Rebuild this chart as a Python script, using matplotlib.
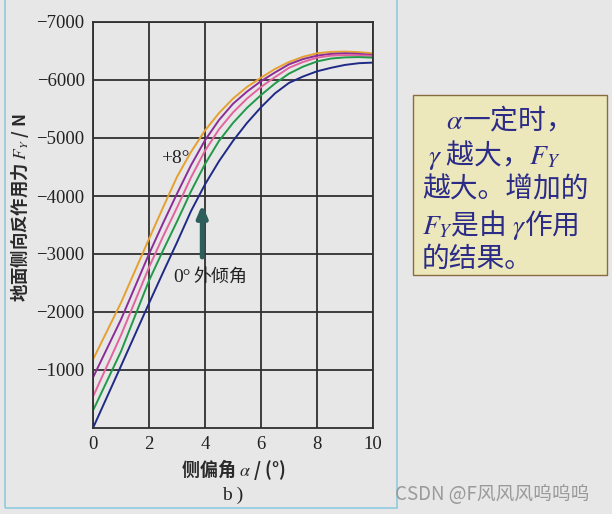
import matplotlib.pyplot as plt
import matplotlib.patches as mpatches

# camber angle curves, 0 deg ... +8 deg (lateral force, N), read every 0.5 deg
alpha = [0, 1, 2, 2.5, 3, 3.5, 4, 4.5, 5, 5.5, 6, 6.5, 7, 7.5, 8, 8.5, 9, 9.5, 10]
fy_0 = [0, -1070, -2150, -2680, -3200, -3740, -4200, -4600, -4950, -5260, -5530,
        -5770, -5950, -6060, -6150, -6210, -6260, -6290, -6300]
fy_2 = [-300, -1320, -2540, -3060, -3560, -4080, -4550, -4950, -5260, -5520, -5740,
        -5940, -6110, -6230, -6320, -6370, -6390, -6395, -6385]
fy_4 = [-540, -1600, -2770, -3300, -3800, -4320, -4780, -5150, -5440, -5680, -5880,
        -6050, -6210, -6310, -6385, -6420, -6430, -6425, -6415]
fy_6 = [-870, -1870, -3000, -3530, -4040, -4530, -4960, -5310, -5590, -5800, -5980,
        -6130, -6270, -6360, -6420, -6450, -6460, -6450, -6430]
fy_8 = [-1180, -2160, -3260, -3800, -4330, -4760, -5130, -5430, -5680, -5880, -6040,
        -6190, -6310, -6400, -6460, -6485, -6490, -6480, -6460]

series = [fy_8, fy_6, fy_4, fy_2, fy_0]
colors = ['#e5a030', '#8c2c98', '#e2649e', '#22984a', '#1e2a86']

yticks = [-1000, -2000, -3000, -4000, -5000, -6000, -7000]
xticks = [0, 2, 4, 6, 8, 10]

plt.rcParams['mathtext.fontset'] = 'stix'
cjk = ['Noto Sans CJK SC', 'DejaVu Sans']
serif = 'Liberation Serif'
bg = '#e7e7e7'

fig = plt.figure(figsize=(6.12, 5.14), dpi=100)
fig.patch.set_facecolor(bg)

# light blue frame around the chart panel
fig.patches.append(mpatches.Rectangle((5 / 612, 6 / 514), 392 / 612, 520 / 514,
                                      transform=fig.transFigure, fill=False,
                                      edgecolor='#8fcbe0', linewidth=1.2))

ax = fig.add_axes([93 / 612, 1 - 428 / 514, 280 / 612, 406 / 514])
ax.set_facecolor(bg)

for ys, c in zip(series, colors):
    ax.plot(alpha, ys, color=c, linewidth=1.4)

ax.set_xlim(0, 10)
ax.set_ylim(0, -7000)
ax.set_xticks(xticks)
ax.set_yticks(yticks)
ax.grid(True, color='#303030', linewidth=1.3)
ax.set_axisbelow(True)
for s in ax.spines.values():
    s.set_color('#303030')
    s.set_linewidth(1.3)
ax.tick_params(length=0, labelsize=13.5, pad=6, colors='#222222')
for lab in ax.get_xticklabels() + ax.get_yticklabels():
    lab.set_family(serif)

ax.set_ylabel('地面侧向反作用力 $F_Y$ / N', family=cjk, fontsize=12.5,
              fontweight='bold', color='#2a2a2a')
ax.yaxis.set_label_coords(-0.222, 0.542)
ax.set_xlabel('侧偏角 $\\alpha$ / (°)', family=cjk, fontsize=13,
              fontweight='bold', color='#2a2a2a', labelpad=3)
ax.text(0.5, -0.165, 'b )', transform=ax.transAxes, ha='center', va='center',
        family=serif, fontsize=14, color='#222222')

ax.text(2.95, -4650, '+8°', family=serif, fontsize=14, color='#222222',
        ha='center', va='center')
ax.annotate('', xy=(3.9, -3900), xytext=(3.9, -2900),
            arrowprops=dict(arrowstyle='-|>,head_width=0.3,head_length=0.7',
                            color='#2e5e5c', linewidth=3.5))
ax.text(2.85, -2600, '0°', family=serif, fontsize=14, color='#222222',
        ha='left', va='center')
ax.text(3.6, -2600, '外倾角', family=cjk, fontsize=13, color='#222222',
        ha='left', va='center')

# note box on the right
fig.patches.append(mpatches.Rectangle((413 / 612, 1 - 275 / 514), 194 / 612, 180 / 514,
                                      transform=fig.transFigure, facecolor='#ece8bc',
                                      edgecolor='#8a6a40', linewidth=1.0))
lines = ['    $\\alpha$一定时，',
         ' $\\gamma$ 越大，$F_Y$',
         '越大。增加的',
         '$F_Y$是由 $\\gamma$作用',
         '的结果。']
for i, t in enumerate(lines):
    fig.text(422 / 612, 1 - (121 + 34.5 * i) / 514, t, family=cjk, fontsize=20,
             color='#2c2c88', ha='left', va='center')

fig.text(395 / 612, 1 - 494 / 514, 'CSDN @F风风风呜呜呜', family=cjk, fontsize=13.5,
         color='#9a9a9a', ha='left', va='center')

fig.savefig('out.png', dpi=100, facecolor=bg)
